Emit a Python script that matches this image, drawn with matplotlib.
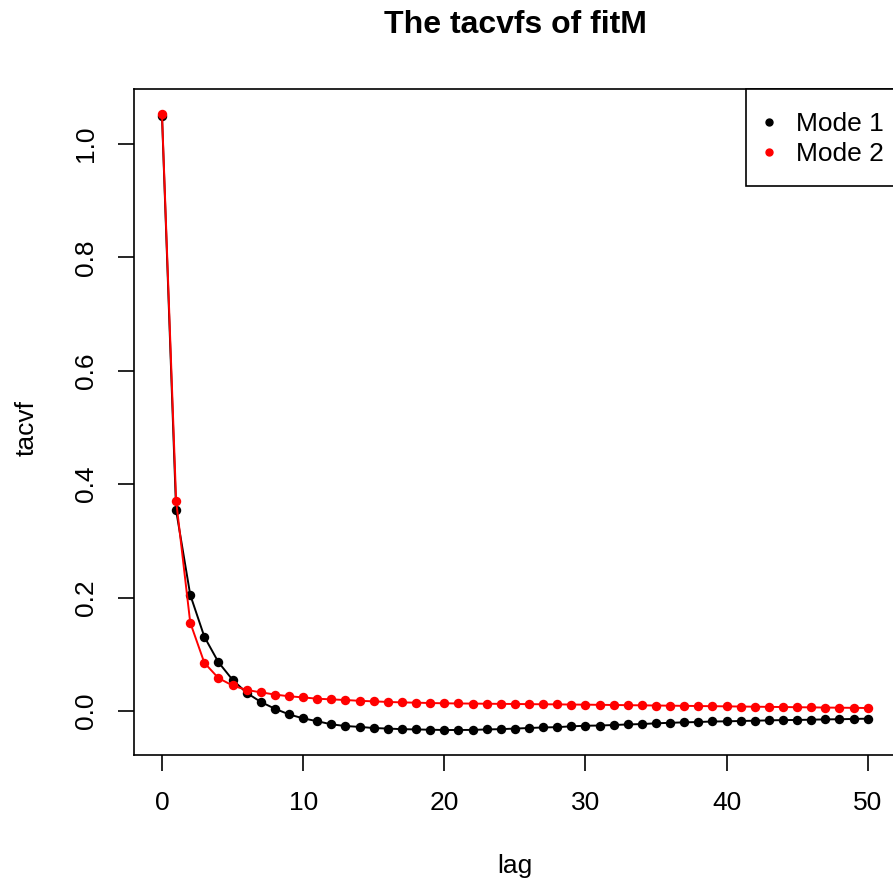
import matplotlib.pyplot as plt
from matplotlib.lines import Line2D

plt.rcParams['font.family'] = ['Liberation Sans', 'DejaVu Sans']

lags = list(range(51))

mode1 = [1.049, 0.354, 0.205, 0.131, 0.086, 0.055, 0.032, 0.016, 0.004, -0.006,
         -0.013, -0.018, -0.0235, -0.0265, -0.028, -0.030, -0.031, -0.032, -0.0325, -0.033,
         -0.0335, -0.0335, -0.0333, -0.0325, -0.032, -0.031, -0.030, -0.029, -0.0285, -0.027,
         -0.026, -0.0256, -0.0247, -0.0237, -0.023, -0.0217, -0.0208, -0.020, -0.0194, -0.0185,
         -0.0182, -0.0176, -0.0171, -0.0165, -0.016, -0.0158, -0.0153, -0.0148, -0.0145, -0.014,
         -0.0135]

mode2 = [1.053, 0.371, 0.156, 0.085, 0.058, 0.045, 0.037, 0.033, 0.029, 0.026,
         0.024, 0.0217, 0.0205, 0.0194, 0.018, 0.017, 0.016, 0.0152, 0.0147, 0.0141,
         0.0136, 0.0133, 0.0131, 0.0128, 0.0126, 0.0124, 0.0121, 0.0119, 0.0117, 0.0114,
         0.0112, 0.0109, 0.0106, 0.0103, 0.0100, 0.0097, 0.0094, 0.0091, 0.0088, 0.0085,
         0.0082, 0.0079, 0.0076, 0.0073, 0.0070, 0.0067, 0.0064, 0.0061, 0.0058, 0.0056,
         0.0053]

series_names = ['Mode 1', 'Mode 2']
series_colors = ['black', 'red']

fig = plt.figure(figsize=(8.93, 8.81), dpi=100)
ax = fig.add_axes([0.1498, 0.1434, 0.8535, 0.7552])

ax.plot(lags, mode1, color='black', lw=1.4, marker='o', markersize=6.8, markeredgewidth=0)
ax.plot(lags, mode2, color='red', lw=1.4, marker='o', markersize=6.8, markeredgewidth=0)

ax.set_xlim(-2, 52)
ax.set_ylim(-0.077, 1.0965)
ax.set_xticks([0, 10, 20, 30, 40, 50])
ax.set_yticks([0.0, 0.2, 0.4, 0.6, 0.8, 1.0])
ax.set_yticklabels(['0.0', '0.2', '0.4', '0.6', '0.8', '1.0'])

for s in ax.spines.values():
    s.set_linewidth(1.2)
ax.tick_params(axis='both', length=11.5, width=1.2, labelsize=19)
ax.tick_params(axis='x', pad=15)
ax.tick_params(axis='y', pad=14, labelrotation=90)
for lab in ax.get_yticklabels():
    lab.set_va('center')

handles = [Line2D([], [], color=c, marker='o', linestyle='none', markersize=5)
           for c in series_colors]
leg = ax.legend(handles, series_names, loc='upper right', bbox_to_anchor=(1, 1),
                borderaxespad=0, fontsize=19, fancybox=False, framealpha=1,
                edgecolor='black', handlelength=0.8, handletextpad=0.6,
                handleheight=2.03, labelspacing=-0.42, borderpad=0.47)
leg.get_frame().set_linewidth(1.2)
# nudge legend dots down so they sit level with the text
for h in leg.legend_handles:
    h.set_ydata([y - 3.8 for y in h.get_ydata()])

fig.text(0.5767, 1 - 25 / 881, 'The tacvfs of fitM', ha='center', va='center',
         fontsize=23, fontweight='bold')
fig.text(0.5767, 1 - 866 / 881, 'lag', ha='center', va='center', fontsize=19)
fig.text(27 / 893, 1 - 428 / 881, 'tacvf', ha='center', va='center', fontsize=19,
         rotation=90)

fig.savefig('out.png', dpi=100)
